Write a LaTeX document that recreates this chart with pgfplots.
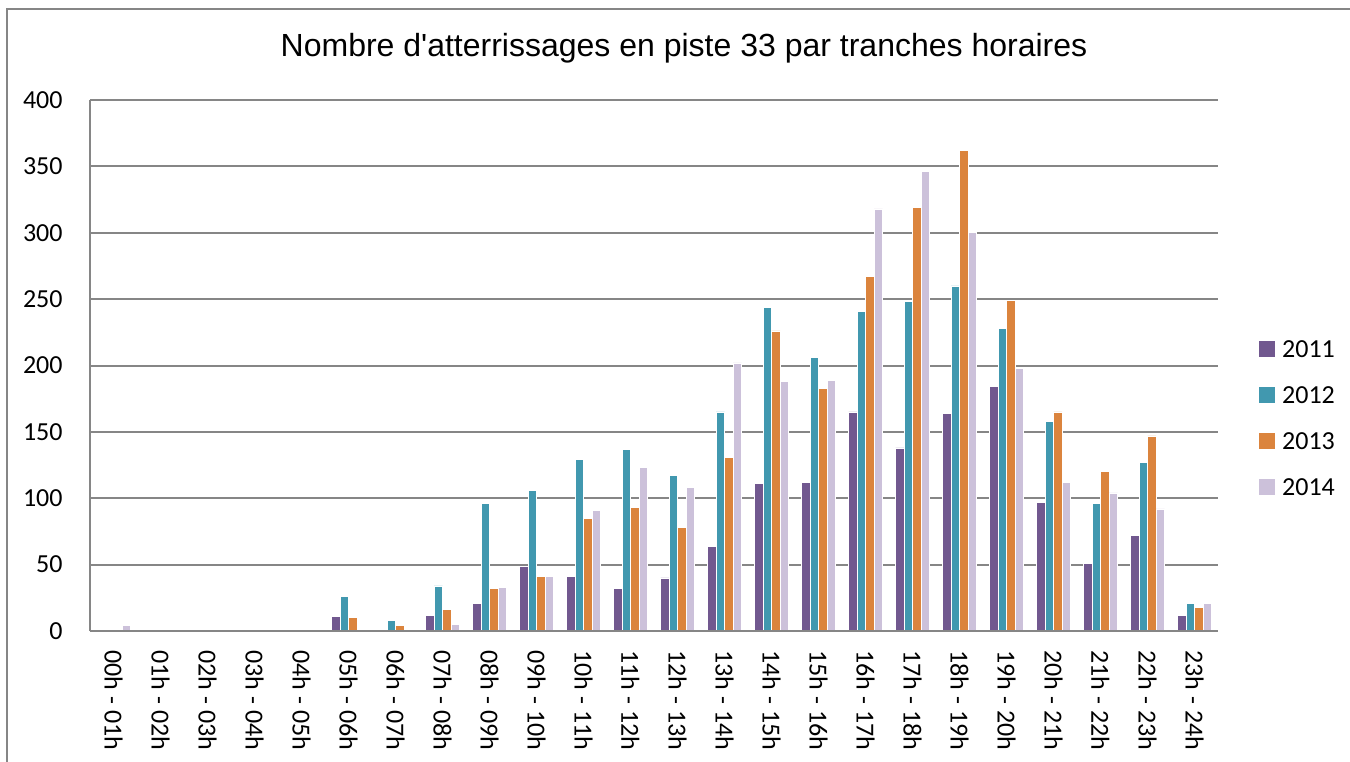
\documentclass[border=0pt]{standalone}
\usepackage{fontspec}
\setmainfont{Carlito}
\newfontfamily\titlefont{Liberation Sans}
\usepackage{pgfplots}
\usepackage{pgfplotstable}
\pgfplotsset{compat=1.18}
\definecolor{c2011}{RGB}{113,88,143}
\definecolor{c2012}{RGB}{65,152,175}
\definecolor{c2013}{RGB}{219,132,61}
\definecolor{c2014}{RGB}{204,193,218}
\definecolor{gridgray}{RGB}{134,134,134}
\pgfplotstableread{
x a b c d
0 nan 1 nan 4
1 nan nan nan nan
2 nan nan nan nan
3 nan nan nan nan
4 nan nan nan nan
5 11 26 10 1
6 1 8 4 nan
7 12 34 16 5
8 21 96 32 33
9 49 106 41 41
10 41 129 85 91
11 32 137 93 123
12 40 117 78 108
13 64 165 131 202
14 111 244 226 188
15 112 206 183 189
16 165 241 267 318
17 138 248 319 346
18 164 260 362 300
19 184 228 249 198
20 97 158 165 112
21 51 96 120 104
22 72 127 147 92
23 12 21 18 21
}\datatable
\begin{document}
\begin{tikzpicture}
\useasboundingbox (0,0) rectangle (675bp,381bp);
\draw[gridgray, line width=0.8bp] (3.5bp,-2bp) -- (3.5bp,376.5bp) -- (677bp,376.5bp);
\node[font=\titlefont\fontsize{16bp}{19bp}\selectfont] at (342bp,357bp) {Nombre d'atterrissages en piste 33 par tranches horaires};
\begin{axis}[
  at={(45bp,65.5bp)}, anchor=south west,
  scale only axis, width=564bp, height=265.5bp,
  ybar=0pt, bar width=4.25bp,
  xmin=-0.5, xmax=23.5, ymin=0, ymax=400,
  unbounded coords=discard,
  ytick={0,50,...,400},
  xtick={0,...,23},
  xticklabels={00h - 01h,01h - 02h,02h - 03h,03h - 04h,04h - 05h,05h - 06h,06h - 07h,07h - 08h,08h - 09h,09h - 10h,10h - 11h,11h - 12h,12h - 13h,13h - 14h,14h - 15h,15h - 16h,16h - 17h,17h - 18h,18h - 19h,19h - 20h,20h - 21h,21h - 22h,22h - 23h,23h - 24h},
  major tick length=0pt,
  axis x line*=bottom, axis y line*=left,
  axis line style={-, draw=gridgray, line width=1bp},
  ymajorgrids, grid style={draw=gridgray, line width=1bp},
  /pgf/number format/assume math mode=true,
  ticklabel style={font=\fontsize{13bp}{15bp}\selectfont},
  xticklabel style={rotate=-90, anchor=west, inner sep=0pt},
  xticklabel shift=9.5bp,
  yticklabel style={anchor=east, inner sep=0pt},
  yticklabel shift=13.5bp,
  legend style={at={(1.0363,0.402)}, anchor=west, draw=none, fill=none,
    inner sep=0pt, outer sep=0pt, row sep=14bp,
    font=\fontsize{13bp}{15bp}\selectfont,
    nodes={inner sep=0pt, text height=9bp, text depth=0bp},
    /tikz/every odd column/.append style={column sep=4bp}},
  legend cell align=left,
  clip=false,
]
\addplot[fill=c2011, draw=white, line width=0.3bp, legend image code/.code={\fill[c2011] (0bp,-3.65bp) rectangle (7.3bp,3.65bp);}] table[x=x,y=a] {\datatable};
\addplot[fill=c2012, draw=white, line width=0.3bp, legend image code/.code={\fill[c2012] (0bp,-3.65bp) rectangle (7.3bp,3.65bp);}] table[x=x,y=b] {\datatable};
\addplot[fill=c2013, draw=white, line width=0.3bp, legend image code/.code={\fill[c2013] (0bp,-3.65bp) rectangle (7.3bp,3.65bp);}] table[x=x,y=c] {\datatable};
\addplot[fill=c2014, draw=white, line width=0.3bp, legend image code/.code={\fill[c2014] (0bp,-3.65bp) rectangle (7.3bp,3.65bp);}] table[x=x,y=d] {\datatable};
\legend{2011,2012,2013,2014}
\draw[gridgray, line width=1bp] (rel axis cs:0,0) -- (rel axis cs:1,0);
\end{axis}
\end{tikzpicture}
\end{document}
